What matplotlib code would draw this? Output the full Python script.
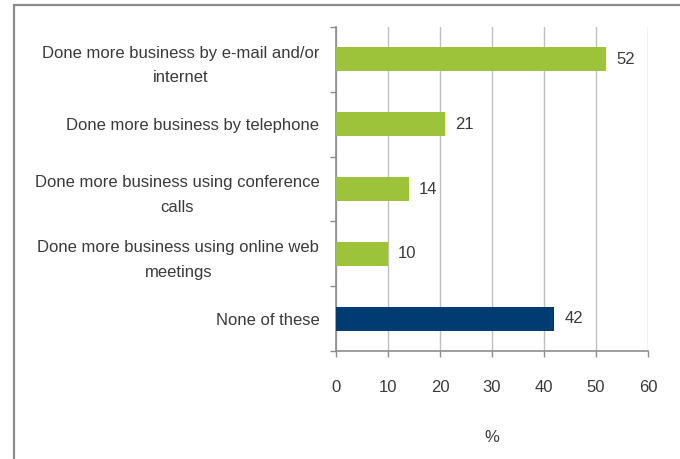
import matplotlib as mpl
mpl.use('agg')
import matplotlib.pyplot as plt
from matplotlib.patches import Rectangle
import numpy as np

# Survey answers (top to bottom) and their percentages
categories = ['Done more business by e-mail and/or\ninternet',
              'Done more business by telephone',
              'Done more business using conference\ncalls',
              'Done more business using online web\nmeetings',
              'None of these']
values = [52, 21, 14, 10, 42]
bar_colors = ['#9dc33b', '#9dc33b', '#9dc33b', '#9dc33b', '#003b71']
xticks = [0, 10, 20, 30, 40, 50, 60]

plt.rcParams['font.family'] = ['Liberation Sans', 'DejaVu Sans']
TEXT = '#3a3a3a'
FS = 12.0

fig = plt.figure(figsize=(6.8, 4.59), dpi=100)
ax = fig.add_axes([336 / 680, 1 - 351 / 459, 312 / 680, 324 / 459])

ypos = np.arange(len(categories))
ax.barh(ypos, values, height=0.37, color=bar_colors, zorder=3)
for y, v in zip(ypos, values):
    ax.text(v + 1.9, y, str(v), va='center', ha='left', fontsize=FS, color=TEXT)

ax.set_ylim(len(categories) - 0.5, -0.5)
ax.set_xlim(0, 60)
ax.set_xticks(xticks)
ax.set_yticks(ypos)
ax.set_yticklabels(categories, fontsize=FS, color=TEXT, multialignment='center',
                   linespacing=1.8)
ax.set_yticks(np.arange(-0.5, len(categories)), minor=True)
ax.tick_params(axis='y', which='major', length=0, pad=12)
ax.tick_params(axis='y', which='minor', length=4, color='#8c8c8c', width=1)
ax.tick_params(axis='x', length=4, color='#8c8c8c', width=1, pad=17,
               labelsize=FS, labelcolor=TEXT)
ax.grid(axis='x', color='#bfbfbf', linewidth=1, zorder=0)
ax.set_xlabel('%', fontsize=FS, color=TEXT, labelpad=25)

for side in ('top', 'right'):
    ax.spines[side].set_visible(False)
for side in ('left', 'bottom'):
    ax.spines[side].set_color('#8c8c8c')
    ax.spines[side].set_linewidth(1.2)

# outer frame of the pasted chart
fig.patches.append(Rectangle((14 / 680, -0.05), 1.0, 1 - 5 / 459 + 0.05,
                             transform=fig.transFigure, fill=False,
                             edgecolor='#8a8a8a', linewidth=1.6, zorder=0))

fig.savefig('out.png', dpi=100)
